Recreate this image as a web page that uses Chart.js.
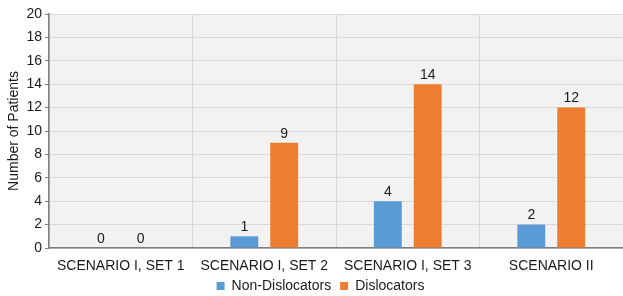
<!DOCTYPE html>
<html>
<head>
<meta charset="utf-8">
<script src="https://cdn.jsdelivr.net/npm/chart.js@4"></script>
<style>
  html, body { margin: 0; padding: 0; background: #fff; }
  #wrap { width: 623px; height: 296px; }
</style>
</head>
<body>
<div id="wrap"><canvas id="patientsChart" width="623" height="296"></canvas></div>
<script>
const categories = ['SCENARIO I, SET 1', 'SCENARIO I, SET 2', 'SCENARIO I, SET 3', 'SCENARIO II'];
const nonDislocators = [0, 1, 4, 2];
const dislocators = [0, 9, 14, 12];
const seriesNames = ['Non-Dislocators', 'Dislocators'];

const fontFamily = '"Liberation Sans", Arial, sans-serif';
const textColor = '#1a1a1a';

// grey plot background
const plotBackground = {
    id: 'plotBackground',
    beforeDraw: chart => {
        const {ctx, chartArea: a} = chart;
        ctx.save();
        ctx.fillStyle = '#f2f2f2';
        ctx.fillRect(a.left, a.top, a.right - a.left, a.bottom - a.top);
        ctx.restore();
    }
};

// keep the legend block short and pull it up a little under the axis labels
const legendHeight = {
    id: 'legendHeight',
    beforeInit: chart => {
        const fit = chart.legend.fit;
        chart.legend.fit = function () {
            fit.call(this);
            this.height = 20;
        };
    },
    afterLayout: chart => {
        chart.legend.top -= 6;
        chart.legend.bottom -= 6;
        chart.legend.left += 9;
        chart.legend.right += 9;
    }
};

// value labels above each bar
const valueLabels = {
    id: 'valueLabels',
    afterDatasetsDraw: chart => {
        const ctx = chart.ctx;
        ctx.save();
        ctx.font = '14px ' + fontFamily;
        ctx.fillStyle = textColor;
        ctx.textAlign = 'center';
        ctx.textBaseline = 'bottom';
        chart.data.datasets.forEach((ds, i) => {
            chart.getDatasetMeta(i).data.forEach((bar, j) => {
                ctx.fillText(ds.data[j], bar.x, bar.y - 2);
            });
        });
        ctx.restore();
    }
};

new Chart(document.getElementById('patientsChart'), {
    type: 'bar',
    data: {
        labels: categories,
        datasets: [
            {label: seriesNames[0], data: nonDislocators, backgroundColor: '#5b9bd5'},
            {label: seriesNames[1], data: dislocators, backgroundColor: '#ed7d31'}
        ]
    },
    options: {
        responsive: false,
        animation: false,
        categoryPercentage: 0.556,
        barPercentage: 0.7,
        layout: {padding: {top: 14, right: 0, left: 0, bottom: 0}},
        plugins: {
            legend: {
                position: 'bottom',
                labels: {
                    color: textColor,
                    font: {family: fontFamily, size: 14},
                    boxWidth: 8,
                    boxHeight: 8,
                    padding: 9
                }
            },
            tooltip: {enabled: false}
        },
        scales: {
            x: {
                grid: {color: '#d9d9d9', drawTicks: false},
                border: {color: '#7f7f7f', width: 1.5},
                ticks: {color: textColor, font: {family: fontFamily, size: 14}, padding: 10, maxRotation: 0},
                afterFit: scale => { scale.height = 28; }
            },
            y: {
                min: 0,
                max: 20,
                ticks: {stepSize: 2, color: textColor, font: {family: fontFamily, size: 14}, padding: 3},
                grid: {color: '#d9d9d9', tickColor: '#7f7f7f', tickLength: 4},
                border: {color: '#7f7f7f', width: 1.5},
                title: {display: true, text: 'Number of Patients', color: textColor, font: {family: fontFamily, size: 14}, padding: {top: 6, bottom: 0}},
                afterFit: scale => { scale.width = 49; }
            }
        }
    },
    plugins: [plotBackground, legendHeight, valueLabels]
});
</script>
</body>
</html>
